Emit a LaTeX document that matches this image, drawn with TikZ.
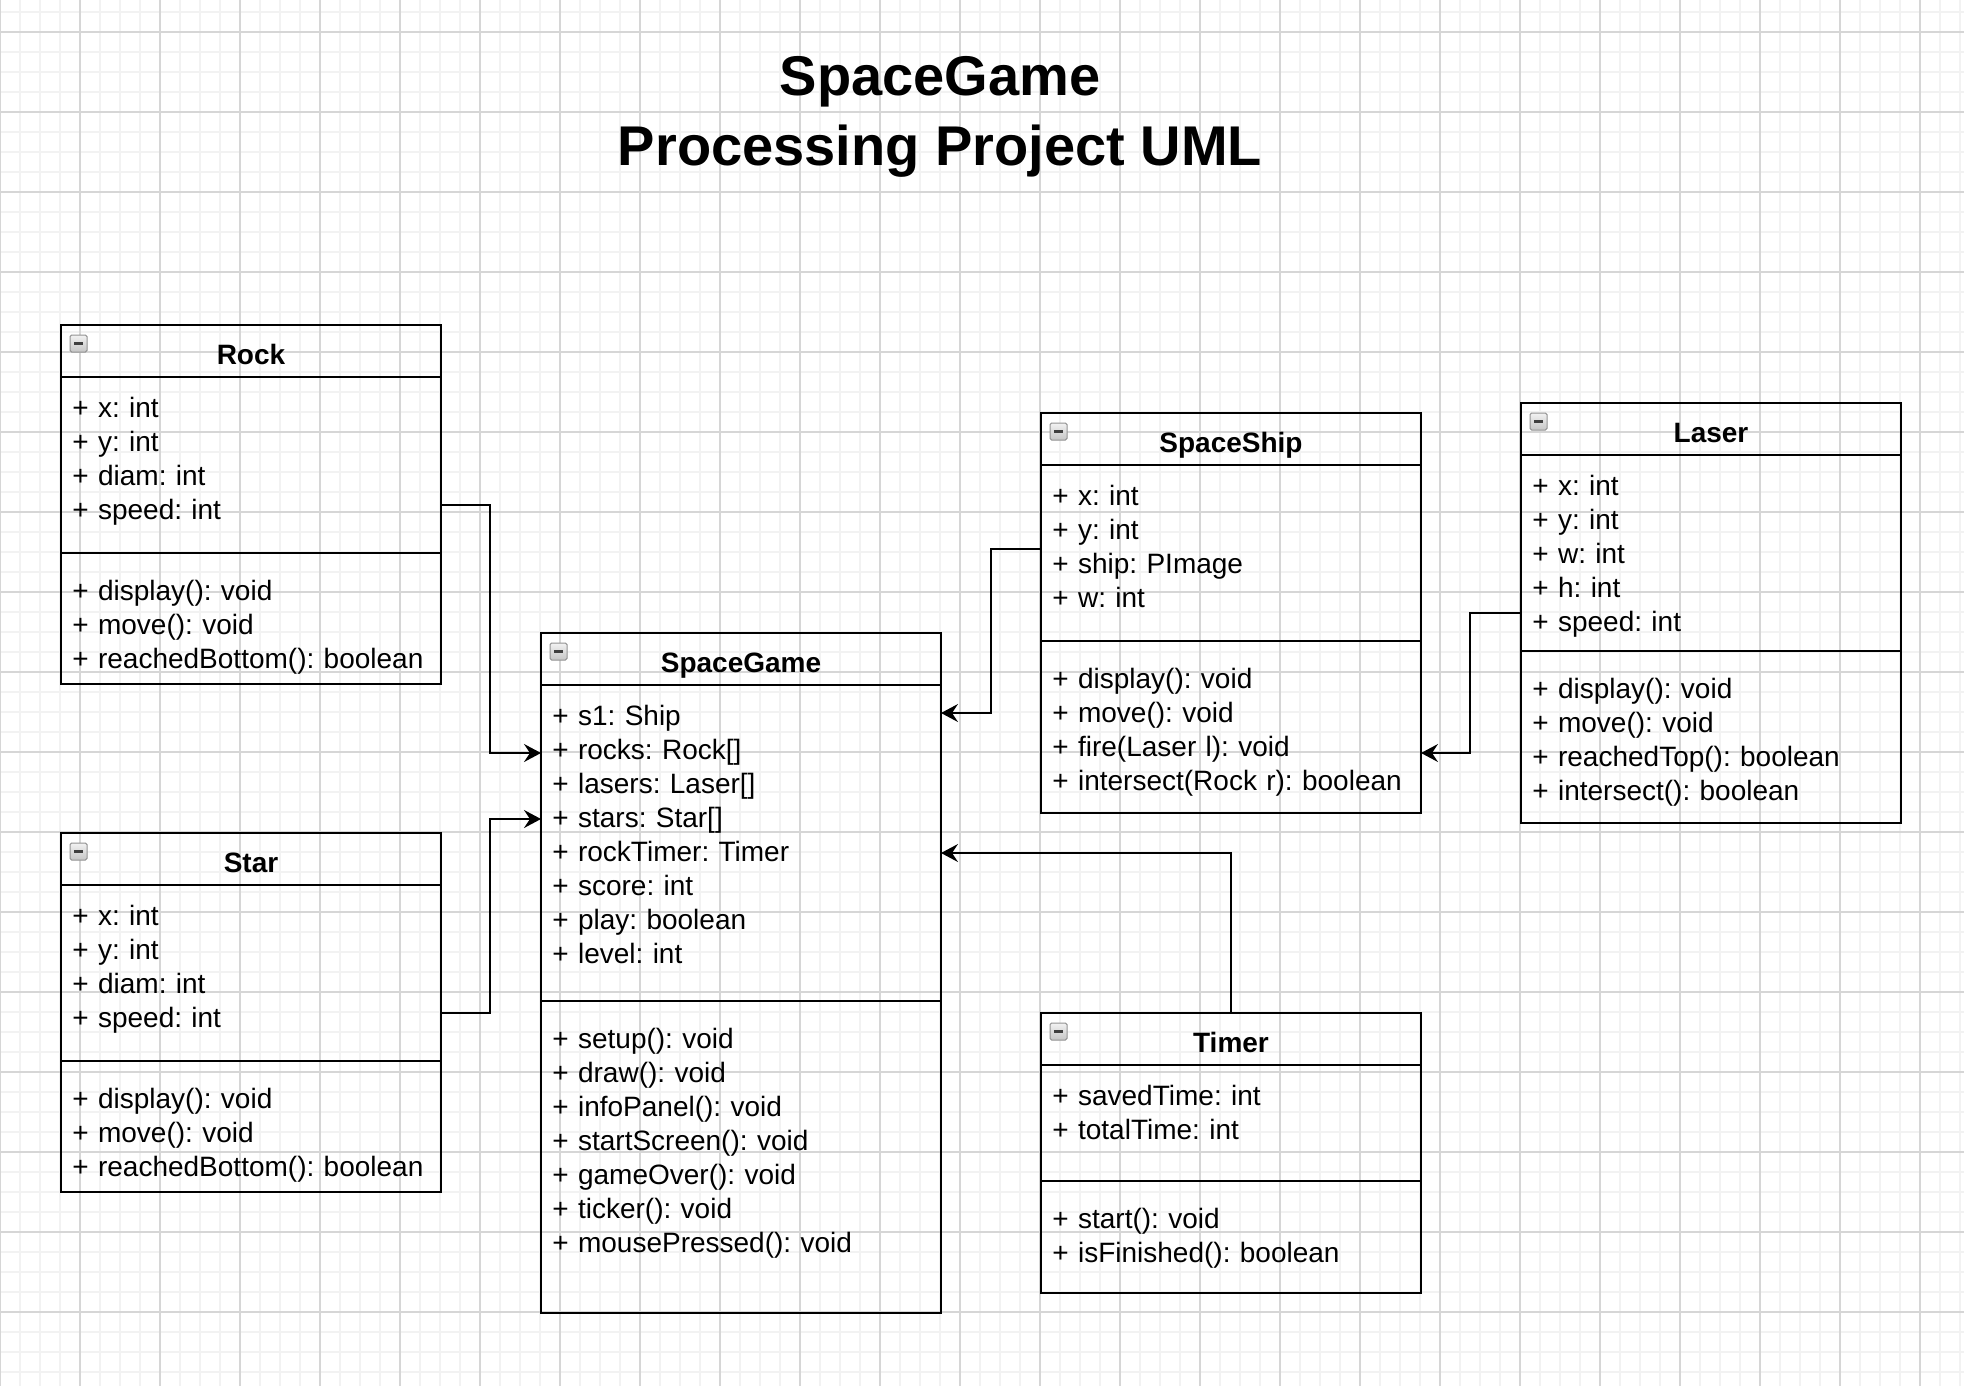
\documentclass[tikz,border=0pt]{standalone}
\usepackage{fontspec}
\setmainfont{Liberation Sans}
\usetikzlibrary{arrows.meta}
\definecolor{gridminor}{HTML}{F2F2F2}
\definecolor{gridmajor}{HTML}{D6D6D6}
\frenchspacing

\begin{document}
\begin{tikzpicture}[x=0.5pt, y=-0.5pt,
	classbox/.style={draw, line width=1pt, inner sep=0, outer sep=0, anchor=north west},
	sepline/.style={line width=1pt},
	classname/.style={font=\fontsize{14}{17}\selectfont\bfseries, inner sep=0, anchor=base},
	members/.style={font=\fontsize{14}{17}\selectfont, inner sep=0, text width=180pt, align=left, anchor=base west},
	minusbox/.style={draw=gray!85, line width=0.5pt, rounded corners=0.8pt, top color=gray!10, bottom color=gray!45,
		minimum size=8.5pt, inner sep=0,
		path picture={\draw[line width=1.3pt, black!75] ([xshift=2pt]path picture bounding box.west) -- ([xshift=-2pt]path picture bounding box.east);}},
	conn/.style={line width=1pt, -{Stealth[length=8.5pt, width=9pt, inset=3pt]}}]
	\useasboundingbox (0,0) rectangle (1964,1386);
	\fill[white] (0,0) rectangle (1964,1386);
	\foreach \x in {0,20,...,1960} \draw[gridminor, line width=1pt] (\x,0) -- (\x,1386);
	\foreach \y in {12,32,...,1372} \draw[gridminor, line width=1pt] (0,\y) -- (1964,\y);
	\foreach \x in {0,80,...,1920} \draw[gridmajor, line width=0.6pt] (\x,0) -- (\x,1386);
	\foreach \y in {32,112,...,1312} \draw[gridmajor, line width=0.6pt] (0,\y) -- (1964,\y);

	\node[font=\fontsize{28}{34}\selectfont\bfseries, inner sep=0, anchor=base] (title) at (940,96) {SpaceGame};
	\node[font=\fontsize{28}{34}\selectfont\bfseries, inner sep=0, anchor=base] (subtitle) at (940,165) {Processing Project UML};

	\node[classbox, minimum width=190pt, minimum height=179.5pt] (rock) at (61,325) {};
	\draw[sepline] (rock.west |- 0,377) -- (rock.east |- 0,377);
	\draw[sepline] (rock.west |- 0,553) -- (rock.east |- 0,553);
	\node[minusbox] (rock-i) at (78.5,343.5) {};
	\node[classname] (rock-t) at (251,364) {Rock};
	\node[members] (rock-a) at (72,417) {+ x: int\\+ y: int\\+ diam: int\\+ speed: int};
	\node[members] (rock-m) at (72,600.5) {+ display(): void\\+ move(): void\\+ reachedBottom(): boolean};

	\node[classbox, minimum width=190pt, minimum height=179.5pt] (star) at (61,833) {};
	\draw[sepline] (star.west |- 0,885) -- (star.east |- 0,885);
	\draw[sepline] (star.west |- 0,1061) -- (star.east |- 0,1061);
	\node[minusbox] (star-i) at (78.5,851.5) {};
	\node[classname] (star-t) at (251,872) {Star};
	\node[members] (star-a) at (72,925) {+ x: int\\+ y: int\\+ diam: int\\+ speed: int};
	\node[members] (star-m) at (72,1108.5) {+ display(): void\\+ move(): void\\+ reachedBottom(): boolean};

	\node[classbox, minimum width=200pt, minimum height=340pt] (game) at (541,633) {};
	\draw[sepline] (game.west |- 0,685) -- (game.east |- 0,685);
	\draw[sepline] (game.west |- 0,1001) -- (game.east |- 0,1001);
	\node[minusbox] (game-i) at (558.5,651.5) {};
	\node[classname] (game-t) at (741,672) {SpaceGame};
	\node[members] (game-a) at (552,725) {+ s1: Ship\\+ rocks: Rock[]\\+ lasers: Laser[]\\+ stars: Star[]\\+ rockTimer: Timer\\+ score: int\\+ play: boolean\\+ level: int};
	\node[members] (game-m) at (552,1048.5) {+ setup(): void\\+ draw(): void\\+ infoPanel(): void\\+ startScreen(): void\\+ gameOver(): void\\+ ticker(): void\\+ mousePressed(): void};

	\node[classbox, minimum width=190pt, minimum height=200pt] (ship) at (1041,413) {};
	\draw[sepline] (ship.west |- 0,465) -- (ship.east |- 0,465);
	\draw[sepline] (ship.west |- 0,641) -- (ship.east |- 0,641);
	\node[minusbox] (ship-i) at (1058.5,431.5) {};
	\node[classname] (ship-t) at (1231,452) {SpaceShip};
	\node[members] (ship-a) at (1052,505) {+ x: int\\+ y: int\\+ ship: PImage\\+ w: int};
	\node[members] (ship-m) at (1052,688.5) {+ display(): void\\+ move(): void\\+ fire(Laser l): void\\+ intersect(Rock r): boolean};

	\node[classbox, minimum width=190pt, minimum height=210pt] (laser) at (1521,403) {};
	\draw[sepline] (laser.west |- 0,455) -- (laser.east |- 0,455);
	\draw[sepline] (laser.west |- 0,651) -- (laser.east |- 0,651);
	\node[minusbox] (laser-i) at (1538.5,421.5) {};
	\node[classname] (laser-t) at (1711,442) {Laser};
	\node[members] (laser-a) at (1532,495) {+ x: int\\+ y: int\\+ w: int\\+ h: int\\+ speed: int};
	\node[members] (laser-m) at (1532,698.5) {+ display(): void\\+ move(): void\\+ reachedTop(): boolean\\+ intersect(): boolean};

	\node[classbox, minimum width=190pt, minimum height=140pt] (timer) at (1041,1013) {};
	\draw[sepline] (timer.west |- 0,1065) -- (timer.east |- 0,1065);
	\draw[sepline] (timer.west |- 0,1181) -- (timer.east |- 0,1181);
	\node[minusbox] (timer-i) at (1058.5,1031.5) {};
	\node[classname] (timer-t) at (1231,1052) {Timer};
	\node[members] (timer-a) at (1052,1105) {+ savedTime: int\\+ totalTime: int};
	\node[members] (timer-m) at (1052,1228.5) {+ start(): void\\+ isFinished(): boolean};

	\draw[conn] (rock.east) -- ++(49,0) |- ([yshift=110pt]game.west);
	\draw[conn] (star.east) -- ++(49,0) |- ([yshift=77pt]game.west);
	\draw[conn] ([yshift=32pt]ship.west) -- ++(-50,0) |- ([yshift=130pt]game.east);
	\draw[conn] (laser.west) -- ++(-51,0) |- ([yshift=-70pt]ship.east);
	\draw[conn] (timer.north) |- ([yshift=60pt]game.east);
\end{tikzpicture}
\end{document}
